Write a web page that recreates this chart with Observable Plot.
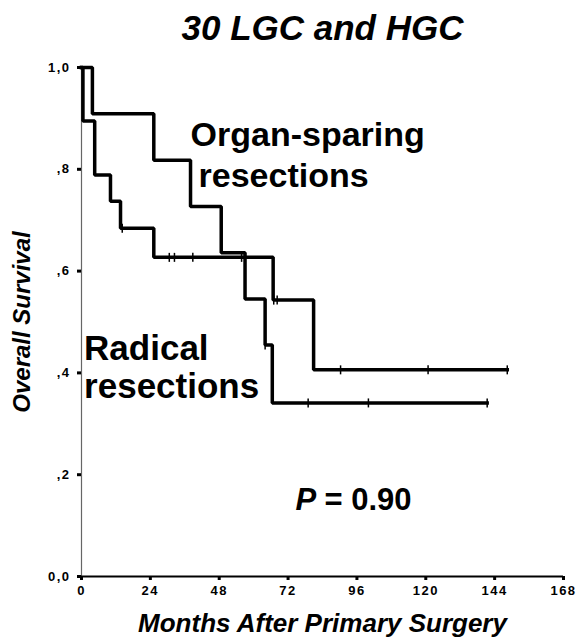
<!DOCTYPE html>
<html>
<head>
<meta charset="utf-8">
<script src="https://cdn.jsdelivr.net/npm/d3@7"></script>
<script src="https://cdn.jsdelivr.net/npm/@observablehq/plot@0.6"></script>
<style>
  html, body { margin: 0; padding: 0; background: #fff; }
  svg { font-family: "Liberation Sans", Arial, sans-serif; }
  g[aria-label="y-axis tick label"] text, g[aria-label="x-axis tick label"] text { letter-spacing: 1.5px; }
</style>
</head>
<body>
<div id="chart"></div>
<script>
// Organ-sparing resections (Kaplan–Meier steps)
const organTime = [0, 3.8, 25.2, 38, 48.7, 57, 64, 66.5, 141.4];
const organSurv = [1, 0.909, 0.818, 0.727, 0.636, 0.545, 0.455, 0.341, 0.341];
const organCensTime = [64, 79, 100, 141.4];
const organCensSurv = [0.455, 0.341, 0.341, 0.341];

// Radical resections
const radTime = [0, 0.5, 4.6, 10.1, 13.6, 25.2, 66.8, 80.9, 148.4];
const radSurv = [1, 0.895, 0.789, 0.737, 0.684, 0.627, 0.543, 0.406, 0.406];
const radCensTime = [14.2, 30.6, 32.4, 38.8, 55.8, 67.0, 68.2, 90.3, 120.8, 148.4];
const radCensSurv = [0.684, 0.627, 0.627, 0.627, 0.627, 0.543, 0.543, 0.406, 0.406, 0.406];

// Axis ticks
const xTicks = [0, 24, 48, 72, 96, 120, 144, 168];
const yTicks = [0, 0.2, 0.4, 0.6, 0.8, 1.0];
const yTickLabels = ["0,0", ",2", ",4", ",6", ",8", "1,0"];

const organ = organTime.map((t, i) => ({t, s: organSurv[i]}));
const radical = radTime.map((t, i) => ({t, s: radSurv[i]}));
const cens = organCensTime.map((t, i) => ({t, s: organCensSurv[i]}))
  .concat(radCensTime.map((t, i) => ({t, s: radCensSurv[i]})));

const vbar = {
  draw(context, size) {
    const r = Math.sqrt(size / Math.PI);
    context.moveTo(0, -r);
    context.lineTo(0, r);
  }
};

const plot = Plot.plot({
  width: 577,
  height: 642,
  marginLeft: 81,
  marginRight: 14,
  marginTop: 67,
  marginBottom: 66,
  x: {domain: [0, 168]},
  y: {domain: [0, 1]},
  marks: [
    Plot.ruleX([0], {stroke: "#666", strokeWidth: 1.2}),
    Plot.ruleY([0], {stroke: "#000", strokeWidth: 2}),
    Plot.axisY({ticks: yTicks, tickFormat: (d) => yTickLabels[yTicks.indexOf(d)], tickSize: 4, tickPadding: 7,
      stroke: "#000", strokeWidth: 3, fontSize: 13, fontWeight: "bold", label: null, fill: "#000"}),
    Plot.axisX({ticks: xTicks, tickFormat: (d) => String(d), tickSize: 4, tickPadding: 5,
      stroke: "#000", strokeWidth: 3, fontSize: 13, fontWeight: "bold", label: null, fill: "#000"}),
    Plot.line(radical, {x: "t", y: "s", curve: "step-after", stroke: "#000", strokeWidth: 3.5, strokeLinejoin: "miter", strokeLinecap: "square"}),
    Plot.line(organ, {x: "t", y: "s", curve: "step-after", stroke: "#000", strokeWidth: 3.5, strokeLinejoin: "miter", strokeLinecap: "square"}),
    Plot.dot(cens, {x: "t", y: "s", symbol: vbar, r: 4.5, stroke: "#000", strokeWidth: 1.5, fill: "none"}),
    // Title
    Plot.text(["30 LGC and HGC"], {frameAnchor: "top", textAnchor: "middle", dx: 0, dy: -28, text: (d) => d,
      fontSize: 35, fontWeight: "bold", fontStyle: "italic", fill: "#000", lineAnchor: "bottom"}),
    // Axis labels
    Plot.text(["Months After Primary Surgery"], {frameAnchor: "bottom", textAnchor: "middle", dy: 55, text: (d) => d,
      fontSize: 26, fontWeight: "bold", fontStyle: "italic", fill: "#000", lineAnchor: "bottom"}),
    Plot.text(["Overall Survival"], {frameAnchor: "left", textAnchor: "middle", lineAnchor: "middle", y: () => 0.5, dx: -59, rotate: -90, text: (d) => d,
      fontSize: 24, fontWeight: "bold", fontStyle: "italic", fill: "#000"}),
    // Annotations
    Plot.text(["Organ-sparing"], {x: () => 38, y: () => 0.846, text: (d) => d, textAnchor: "start", lineAnchor: "bottom",
      fontSize: 34, fontWeight: "bold", fill: "#000"}),
    Plot.text(["resections"], {x: () => 40.8, y: () => 0.766, text: (d) => d, textAnchor: "start", lineAnchor: "bottom",
      fontSize: 34, fontWeight: "bold", fill: "#000"}),
    Plot.text(["Radical"], {x: () => 0.9, y: () => 0.425, text: (d) => d, textAnchor: "start", lineAnchor: "bottom",
      fontSize: 35, fontWeight: "bold", fill: "#000"}),
    Plot.text(["resections"], {x: () => 0.9, y: () => 0.35, text: (d) => d, textAnchor: "start", lineAnchor: "bottom",
      fontSize: 35, fontWeight: "bold", fill: "#000"}),
    Plot.text(["P"], {x: () => 74.6, y: () => 0.131, text: (d) => d, textAnchor: "start", lineAnchor: "bottom",
      fontSize: 31, fontWeight: "bold", fontStyle: "italic", fill: "#000"}),
    Plot.text(["= 0.90"], {x: () => 84.7, y: () => 0.131, text: (d) => d, textAnchor: "start", lineAnchor: "bottom",
      fontSize: 31, fontWeight: "bold", fill: "#000"})
  ]
});
document.getElementById("chart").appendChild(plot);
</script>
</body>
</html>
